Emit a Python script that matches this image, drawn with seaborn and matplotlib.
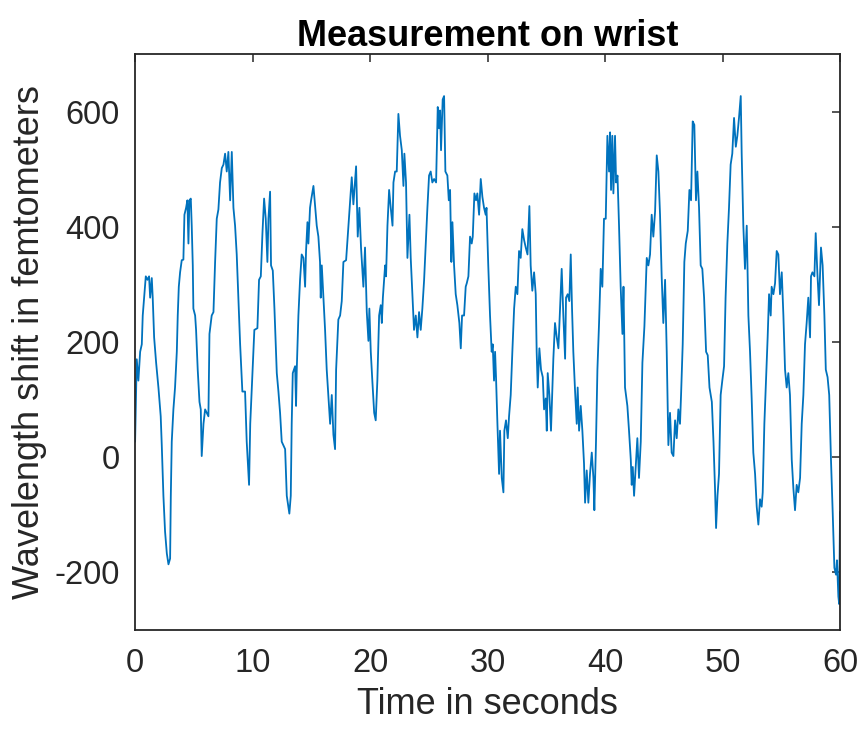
import matplotlib
matplotlib.use('Agg')
import matplotlib.pyplot as plt
import seaborn as sns
import pandas as pd

# signal (seconds, femtometers)
time_s = [
    0.00, 0.14, 0.28, 0.43, 0.57, 0.65, 0.77, 0.91, 1.05, 1.19, 1.28, 1.42, 1.50, 1.62, 1.79, 1.99,
    2.18, 2.27, 2.41, 2.55, 2.70, 2.84, 2.98, 3.04, 3.12, 3.26, 3.40, 3.55, 3.63, 3.72, 3.83, 3.97,
    4.11, 4.20, 4.34, 4.45, 4.54, 4.62, 4.74, 4.82, 4.91, 4.96, 5.11, 5.19, 5.33, 5.48, 5.59, 5.67,
    5.82, 5.96, 6.10, 6.24, 6.33, 6.52, 6.67, 6.81, 6.95, 7.09, 7.23, 7.38, 7.52, 7.66, 7.80, 7.94,
    8.09, 8.23, 8.37, 8.51, 8.65, 8.79, 8.94, 9.13, 9.36, 9.50, 9.70, 9.80, 10.00, 10.15,
    10.41, 10.55, 10.70, 10.84, 10.98, 11.12, 11.26, 11.35, 11.49, 11.57, 11.72, 11.86, 12.06, 12.20,
    12.34, 12.48, 12.77, 12.91, 13.13, 13.25, 13.33, 13.42, 13.62, 13.70, 13.76, 13.90, 14.04, 14.18,
    14.33, 14.47, 14.55, 14.67, 14.75, 14.89, 14.98, 15.18, 15.46, 15.60, 15.74, 15.80, 15.89, 16.17,
    16.31, 16.60, 16.74, 16.88, 17.02, 17.11, 17.30, 17.45, 17.59, 17.73, 17.96, 18.16, 18.30, 18.44,
    18.58, 18.81, 18.95, 19.09, 19.23, 19.43, 19.57, 19.72, 19.86, 19.94, 20.06, 20.20, 20.35, 20.48,
    20.62, 20.77, 20.91, 21.00, 21.09, 21.28, 21.36, 21.48, 21.62, 21.76, 21.91, 21.99, 22.13, 22.27,
    22.41, 22.55, 22.70, 22.84, 22.92, 23.06, 23.18, 23.35, 23.46, 23.63, 23.74, 23.89, 24.03, 24.17,
    24.31, 24.45, 24.60, 24.74, 24.88, 25.02, 25.16, 25.30, 25.45, 25.62, 25.76, 25.87, 25.96, 26.04,
    26.18, 26.30, 26.41, 26.58, 26.70, 26.81, 26.92, 27.01, 27.15, 27.29, 27.43, 27.60, 27.72, 27.83,
    28.00, 28.14, 28.23, 28.37, 28.51, 28.65, 28.74, 28.88, 29.02, 29.13, 29.28, 29.42, 29.56, 29.70,
    29.84, 29.91, 30.06, 30.21, 30.35, 30.44, 30.55, 30.64, 30.72, 30.84, 30.98, 31.06, 31.21, 31.35,
    31.43, 31.57, 31.72, 31.83, 31.97, 32.11, 32.26, 32.40, 32.54, 32.68, 32.82, 32.96, 33.11, 33.25,
    33.40, 33.56, 33.67, 33.81, 33.96, 34.10, 34.18, 34.27, 34.41, 34.55, 34.70, 34.81, 34.95, 35.04,
    35.12, 35.26, 35.40, 35.52, 35.60, 35.74, 35.89, 36.03, 36.17, 36.31, 36.45, 36.60, 36.68, 36.82,
    36.96, 37.08, 37.19, 37.30, 37.45, 37.59, 37.67, 37.79, 37.93, 38.07, 38.21, 38.30, 38.44, 38.58,
    38.72, 38.87, 39.01, 39.09, 39.23, 39.35, 39.49, 39.63, 39.77, 39.91, 40.06, 40.20, 40.34, 40.43,
    40.51, 40.62, 40.71, 40.85, 40.94, 41.06, 41.19, 41.33, 41.48, 41.57, 41.70, 41.90, 42.04, 42.19,
    42.27, 42.36, 42.47, 42.61, 42.75, 42.89, 43.04, 43.18, 43.35, 43.55, 43.69, 43.83, 43.97, 44.11,
    44.26, 44.40, 44.54, 44.68, 44.82, 44.96, 45.11, 45.25, 45.39, 45.53, 45.67, 45.82, 45.96, 46.10,
    46.24, 46.38, 46.47, 46.61, 46.75, 46.87, 47.04, 47.18, 47.32, 47.46, 47.60, 47.74, 47.86, 48.00,
    48.14, 48.28, 48.43, 48.60, 48.74, 48.89, 49.09, 49.23, 49.36, 49.45, 49.57, 49.70, 49.84, 49.98,
    50.13, 50.26, 50.41, 50.55, 50.69, 50.83, 50.98, 51.13, 51.26, 51.40, 51.55, 51.63, 51.77, 51.91,
    52.06, 52.20, 52.34, 52.48, 52.62, 52.77, 52.91, 53.05, 53.19, 53.33, 53.42, 53.56, 53.70, 53.84,
    53.96, 54.10, 54.18, 54.33, 54.47, 54.61, 54.75, 54.89, 55.04, 55.18, 55.32, 55.46, 55.60, 55.74,
    55.89, 56.03, 56.17, 56.31, 56.45, 56.60, 56.74, 56.88, 57.02, 57.16, 57.30, 57.45, 57.53, 57.65,
    57.82, 57.93, 58.07, 58.21, 58.38, 58.52, 58.67, 58.79, 58.94, 59.08, 59.23, 59.38, 59.52, 59.66,
    59.74, 59.86, 59.93, 60.00,
]
shift_fm = [
    27, 170, 133, 183, 196, 246, 277, 314, 308, 314, 277, 311, 277, 208, 164, 120,
    71, 21, -67, -129, -167, -186, -176, -67, 27, 83, 121, 183, 246, 296, 321, 342,
    343, 421, 433, 446, 371, 446, 449, 402, 333, 258, 246, 221, 152, 96, 83, 2,
    58, 83, 77, 71, 214, 246, 252, 339, 414, 430, 477, 502, 508, 527, 496, 530,
    446, 530, 433, 402, 352, 277, 196, 114, 114, 27, -48, 58, 152, 221,
    224, 308, 314, 389, 449, 414, 339, 414, 461, 333, 324, 258, 146, 114,
    77, 27, 14, -67, -98, -67, 58, 146, 158, 89, 152, 246, 308, 352,
    346, 296, 358, 408, 371, 433, 446, 471, 402, 383, 339, 277, 333, 221,
    152, 58, 108, 39, 14, 152, 239, 246, 271, 339, 342, 402, 446, 486,
    439, 505, 383, 433, 364, 296, 364, 252, 202, 258, 183, 130, 77, 64,
    133, 246, 264, 233, 277, 333, 314, 402, 464, 433, 402, 477, 496, 496,
    596, 558, 533, 471, 527, 477, 346, 421, 346, 271, 221, 246, 208, 252,
    221, 258, 308, 371, 433, 489, 496, 477, 483, 477, 608, 571, 602, 533,
    621, 627, 496, 489, 446, 464, 339, 408, 333, 283, 264, 233, 189, 246,
    246, 296, 302, 314, 383, 371, 383, 458, 446, 458, 421, 483, 452, 433,
    421, 433, 333, 246, 183, 196, 133, 183, 139, 58, -29, 46, -36, -61,
    46, 64, 33, 71, 108, 183, 258, 296, 283, 358, 346, 396, 377, 364,
    352, 436, 333, 289, 321, 283, 183, 121, 189, 152, 139, 83, 102, 46,
    146, 108, 46, 121, 171, 233, 208, 189, 258, 327, 246, 171, 277, 283,
    271, 352, 258, 183, 114, 58, 121, 46, 89, 46, -11, -79, -23, -79,
    -29, 8, -36, -92, 27, 152, 233, 327, 296, 414, 414, 558, 496, 564,
    464, 558, 458, 558, 477, 489, 402, 296, 214, 296, 121, 89, 46, -4,
    -48, -17, -67, -17, 33, -36, 27, 164, 227, 346, 333, 352, 421, 383,
    427, 524, 496, 421, 314, 233, 308, 183, 21, 77, 8, 2, 64, 33,
    83, 58, 108, 196, 339, 371, 393, 464, 446, 583, 577, 446, 496, 433,
    333, 327, 277, 183, 177, 121, 96, 27, -54, -123, -67, -29, 108, 133,
    158, 277, 371, 433, 508, 527, 589, 539, 558, 589, 627, 527, 402, 327,
    402, 246, 183, 102, 8, -29, -86, -117, -73, -86, -61, 58, 133, 208,
    283, 246, 296, 283, 302, 358, 352, 283, 321, 246, 152, 121, 146, 108,
    -4, -54, -92, -48, -61, -36, 58, 108, 196, 233, 277, 208, 314, 321,
    314, 389, 321, 264, 364, 333, 246, 152, 139, 108, -4, -98, -192, -204,
    -179, -242, -255, -95,
]

x_ticks = [0, 10, 20, 30, 40, 50, 60]
y_ticks = [-200, 0, 200, 400, 600]

df = pd.DataFrame({'time': time_s, 'shift': shift_fm})

sns.set_style('white')
plt.rcParams['font.family'] = ['Liberation Sans', 'DejaVu Sans']
plt.rcParams['axes.unicode_minus'] = False  # plain hyphen like the original

fig = plt.figure(figsize=(8.66, 7.3), dpi=100)
ax = fig.add_axes([0.156, 0.137, 0.814, 0.789])

sns.lineplot(data=df, x='time', y='shift', ax=ax, color='#0072BD',
             linewidth=1.3, sort=False, estimator=None)

ax.set_xlim(0, 60)
ax.set_ylim(-300, 700)
ax.set_xticks(x_ticks)
ax.set_yticks(y_ticks)

dark = '#262626'
for sp in ax.spines.values():
    sp.set_visible(True)
    sp.set_color(dark)
    sp.set_linewidth(1.3)
ax.tick_params(axis='both', direction='in', length=6, width=1.1, color=dark,
               labelcolor=dark, labelsize=23.5, top=True, right=True)
ax.tick_params(axis='x', pad=13)
ax.tick_params(axis='y', pad=11)

ax.set_xlabel('Time in seconds', fontsize=26, color=dark, labelpad=6)
ax.set_ylabel('Wavelength shift in femtometers', fontsize=26, color=dark, labelpad=5)
ax.set_title('Measurement on wrist', fontsize=26, fontweight='bold', color='black', pad=6)

fig.savefig('out.png', dpi=100)
